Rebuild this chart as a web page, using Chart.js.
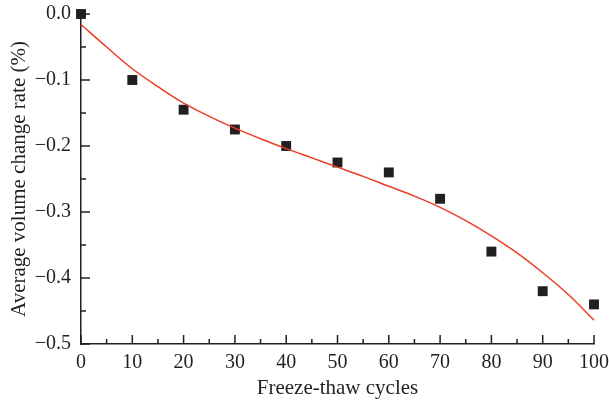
<!DOCTYPE html>
<html>
<head>
<meta charset="utf-8">
<script src="https://cdn.jsdelivr.net/npm/chart.js@4/dist/chart.umd.min.js"></script>
<style>
  html, body { margin: 0; padding: 0; background: #ffffff; }
  #wrap { width: 609px; height: 404px; position: relative; }
</style>
</head>
<body>
<div id="wrap"><canvas id="c"></canvas></div>
<script>
// Measured average volume change rate (%) after each number of freeze-thaw cycles
const cycles = [0, 10, 20, 30, 40, 50, 60, 70, 80, 90, 100];
const volumeChange = [0.0, -0.10, -0.145, -0.175, -0.20, -0.225, -0.24, -0.28, -0.36, -0.42, -0.44];

// Fitted trend curve, sampled every 5 cycles
const fitCycles = [0, 5, 10, 15, 20, 25, 30, 35, 40, 45, 50, 55, 60, 65, 70, 75, 80, 85, 90, 95, 100];
const fitValues = [-0.016, -0.050, -0.083, -0.110, -0.135, -0.155, -0.173, -0.189, -0.204, -0.218, -0.232,
                   -0.246, -0.261, -0.276, -0.293, -0.313, -0.336, -0.362, -0.392, -0.425, -0.464];

// Axis ticks
const xMajorTicks = [0, 10, 20, 30, 40, 50, 60, 70, 80, 90, 100];
const xMinorTicks = [5, 15, 25, 35, 45, 55, 65, 75, 85, 95];
const yMajorTicks = [0.0, -0.1, -0.2, -0.3, -0.4, -0.5];
const yMinorTicks = [-0.05, -0.15, -0.25, -0.35, -0.45];

const ink = '#231f20';
const fitColor = '#ee3b22';
const serif = "'Liberation Serif', 'DejaVu Serif', serif";

// Inward tick marks on the left and bottom axes
const innerTicks = {
  id: 'innerTicks',
  afterDatasetsDraw(chart) {
    const { ctx, chartArea, scales } = chart;
    const xs = scales.x, ys = scales.y;
    ctx.save();
    ctx.strokeStyle = ink;
    ctx.lineWidth = 1.5;
    ctx.beginPath();
    const major = 9, minor = 5;
    xMajorTicks.forEach(v => { const p = xs.getPixelForValue(v); ctx.moveTo(p, chartArea.bottom); ctx.lineTo(p, chartArea.bottom - major); });
    xMinorTicks.forEach(v => { const p = xs.getPixelForValue(v); ctx.moveTo(p, chartArea.bottom); ctx.lineTo(p, chartArea.bottom - minor); });
    yMajorTicks.forEach(v => { const p = ys.getPixelForValue(v); ctx.moveTo(chartArea.left, p); ctx.lineTo(chartArea.left + major, p); });
    yMinorTicks.forEach(v => { const p = ys.getPixelForValue(v); ctx.moveTo(chartArea.left, p); ctx.lineTo(chartArea.left + minor, p); });
    ctx.stroke();
    ctx.restore();
  }
};

const fmtY = v => {
  if (Math.abs(v) < 1e-9) return '0.0';
  return (v < 0 ? '\u2212' : '') + Math.abs(v).toFixed(1);
};

new Chart(document.getElementById('c'), {
  type: 'scatter',
  data: {
    datasets: [
      {
        label: 'Fit',
        type: 'line',
        data: fitCycles.map((x, i) => ({ x, y: fitValues[i] })),
        borderColor: fitColor,
        borderWidth: 1.5,
        pointRadius: 0,
        fill: false,
        cubicInterpolationMode: 'monotone',
        clip: false
      },
      {
        label: 'Measured',
        data: cycles.map((x, i) => ({ x, y: volumeChange[i] })),
        pointStyle: 'rect',
        pointRadius: 7,
        pointBackgroundColor: ink,
        pointBorderColor: ink,
        pointBorderWidth: 0,
        clip: false
      }
    ]
  },
  options: {
    responsive: true,
    maintainAspectRatio: false,
    animation: false,
    devicePixelRatio: 1,
    layout: { autoPadding: false, padding: { left: 0, top: 14, right: 15, bottom: 0 } },
    plugins: { legend: { display: false }, tooltip: { enabled: false } },
    scales: {
      x: {
        type: 'linear',
        min: 0, max: 100,
        afterFit(s) { s.height = 60; s.paddingLeft = 0; s.paddingRight = 0; },
        afterBuildTicks(s) { s.ticks = xMajorTicks.map(v => ({ value: v })); },
        grid: { display: false, drawTicks: false },
        border: { display: true, color: ink, width: 1.5 },
        ticks: { color: ink, padding: 7, font: { family: serif, size: 20 }, autoSkip: false, maxRotation: 0 },
        title: { display: true, text: 'Freeze-thaw cycles', color: ink, font: { family: serif, size: 21 }, padding: { top: 0, bottom: 3 } }
      },
      y: {
        type: 'linear',
        min: -0.5, max: 0,
        afterFit(s) { s.width = 81; s.paddingTop = 0; s.paddingBottom = 0; },
        afterBuildTicks(s) { s.ticks = yMajorTicks.map(v => ({ value: v })); },
        grid: { display: false, drawTicks: false },
        border: { display: true, color: ink, width: 1.5 },
        ticks: { color: ink, padding: 10, font: { family: serif, size: 20 }, callback: v => fmtY(v), autoSkip: false },
        title: { display: true, text: 'Average volume change rate (%)', color: ink, font: { family: serif, size: 21 }, padding: { top: 7, bottom: 0 } }
      }
    }
  },
  plugins: [innerTicks]
});
</script>
</body>
</html>
